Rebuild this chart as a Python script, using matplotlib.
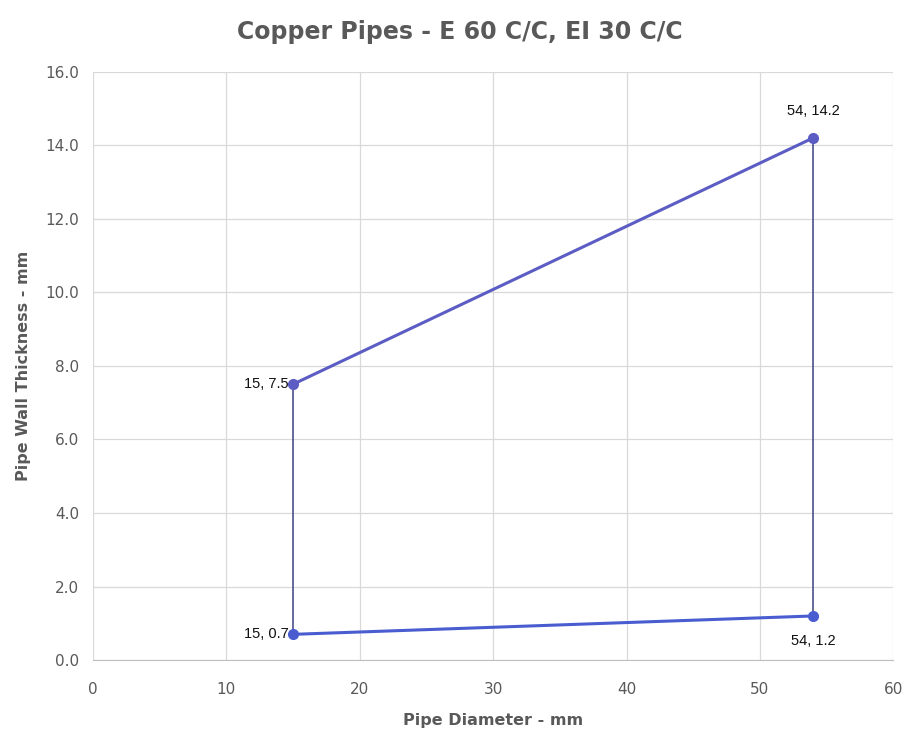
import matplotlib
matplotlib.use("Agg")
import matplotlib.pyplot as plt
from matplotlib.ticker import FormatStrFormatter

# Data
diam_top = [15, 54]
thick_top = [7.5, 14.2]
diam_bottom = [15, 54]
thick_bottom = [0.7, 1.2]
x_ticks = [0, 10, 20, 30, 40, 50, 60]
y_ticks = [0, 2, 4, 6, 8, 10, 12, 14, 16]

fig = plt.figure(figsize=(9.2, 7.31), dpi=100)
ax = fig.add_axes([0.101, 0.097, 0.870, 0.805])

# vertical connectors (thin)
for i in range(2):
    ax.plot([diam_top[i], diam_bottom[i]], [thick_top[i], thick_bottom[i]],
            color="#4B4F8C", lw=1.2, zorder=2)
ax.plot(diam_top, thick_top, color="#5B5CC4", lw=2.2, zorder=3,
        marker="o", ms=7, mfc="#5B5CC4", mec="#5B5CC4")
ax.plot(diam_bottom, thick_bottom, color="#4A5DD0", lw=2.2, zorder=3,
        marker="o", ms=7, mfc="#4A5DD0", mec="#4A5DD0")

lab_font = dict(fontsize=10.5, color="#111111", family="Liberation Sans")
ax.annotate(f"{diam_top[0]}, {thick_top[0]}", (diam_top[0], thick_top[0]),
            xytext=(-3, 0), textcoords="offset points", ha="right", va="center", **lab_font)
ax.annotate(f"{diam_top[1]}, {thick_top[1]}", (diam_top[1], thick_top[1]),
            xytext=(0, 14), textcoords="offset points", ha="center", va="bottom", **lab_font)
ax.annotate(f"{diam_bottom[0]}, {thick_bottom[0]}", (diam_bottom[0], thick_bottom[0]),
            xytext=(-3, 0), textcoords="offset points", ha="right", va="center", **lab_font)
ax.annotate(f"{diam_bottom[1]}, {thick_bottom[1]}", (diam_bottom[1], thick_bottom[1]),
            xytext=(0, -13), textcoords="offset points", ha="center", va="top", **lab_font)

ax.set_xlim(0, 60)
ax.set_ylim(0, 16)
ax.set_xticks(x_ticks)
ax.set_yticks(y_ticks)
ax.yaxis.set_major_formatter(FormatStrFormatter("%.1f"))
ax.grid(True, color="#D9D9D9", lw=0.9)
ax.set_axisbelow(True)
for s in ["top", "right", "left"]:
    ax.spines[s].set_visible(False)
ax.spines["bottom"].set_color("#BFBFBF")
ax.tick_params(axis="both", length=0, colors="#595959", labelsize=11)
ax.tick_params(axis="x", pad=16)
ax.tick_params(axis="y", pad=10)
for lab in ax.get_xticklabels() + ax.get_yticklabels():
    lab.set_family("DejaVu Sans Condensed")

ax.set_xlabel("Pipe Diameter - mm", fontsize=11.5, fontweight="bold", color="#595959",
              family="DejaVu Sans Condensed", labelpad=11)
ax.set_ylabel("Pipe Wall Thickness - mm", fontsize=11.5, fontweight="bold", color="#595959",
              family="DejaVu Sans Condensed", labelpad=10)
fig.suptitle("Copper Pipes - E 60 C/C, EI 30 C/C", fontsize=17, fontweight="bold",
             color="#595959", family="DejaVu Sans Condensed", y=0.973)

fig.savefig("out.png", dpi=100, facecolor="white")
